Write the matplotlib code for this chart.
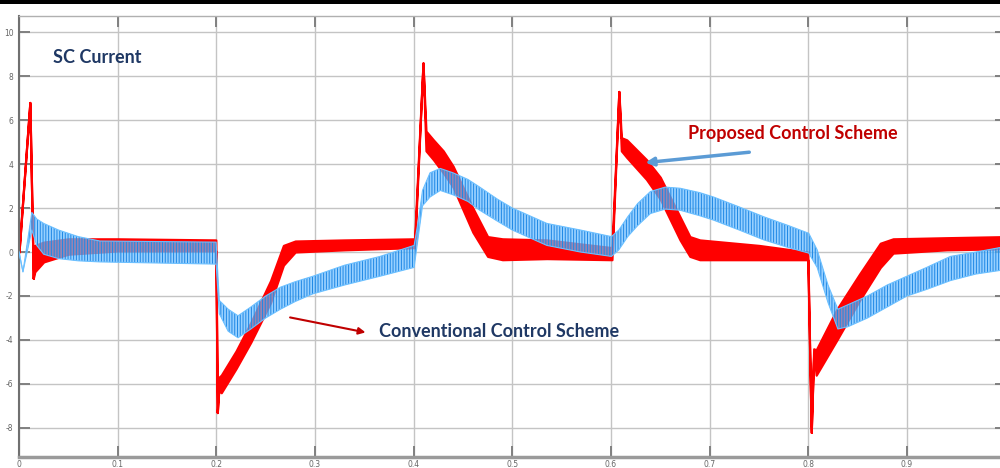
"""SC current: proposed vs conventional control scheme (scope-style plot)."""
import matplotlib
matplotlib.use('Agg')
import matplotlib.pyplot as plt
from matplotlib.patches import Rectangle

plt.rcParams['axes.unicode_minus'] = False
plt.rcParams['hatch.linewidth'] = 0.7

# Proposed scheme (red) - ripple band, upper / lower envelope
red_t = [0.000, 0.011, 0.0145, 0.016, 0.025, 0.05, 0.10, 0.1995,
         0.2010, 0.2025, 0.205, 0.22, 0.235, 0.255, 0.268, 0.28, 0.33, 0.401,
         0.4095, 0.4125, 0.42, 0.43, 0.44, 0.46, 0.475, 0.49, 0.535, 0.601,
         0.608, 0.6105, 0.616, 0.636, 0.65, 0.67, 0.68, 0.69, 0.75, 0.7995,
         0.803, 0.8055, 0.808, 0.829, 0.852, 0.873, 0.886, 0.94, 1.0]
red_hi = [0.0, 6.8, -1.2, 0.3, 0.45, 0.6, 0.6, 0.55,
          -7.3, -5.7, -5.6, -4.5, -3.2, -1.3, 0.3, 0.5, 0.55, 0.6,
          8.6, 5.5, 5.1, 4.6, 3.9, 2.0, 0.7, 0.6, 0.55, 0.2,
          7.3, 5.2, 5.1, 4.2, 3.4, 1.6, 0.7, 0.55, 0.3, 0.0,
          -8.2, -4.4, -4.45, -2.6, -1.0, 0.4, 0.6, 0.65, 0.7]
red_lo = [0.0, 6.8, -1.2, -0.9, -0.45, -0.1, 0.05, 0.05,
          -7.3, -6.3, -6.4, -5.3, -4.1, -2.3, -0.6, 0.0, 0.1, 0.2,
          8.6, 4.6, 4.2, 3.6, 2.95, 0.9, -0.2, -0.35, -0.3, -0.35,
          7.3, 4.6, 4.3, 3.3, 2.4, 0.55, -0.2, -0.35, -0.35, -0.35,
          -8.2, -4.6, -5.6, -4.0, -2.2, -0.7, -0.05, 0.1, 0.15]

# Conventional scheme (blue) - ripple band, upper / lower envelope
blue_t = [0.000, 0.004, 0.013, 0.018, 0.025, 0.04, 0.06, 0.082, 0.1998,
          0.203, 0.212, 0.222, 0.235, 0.25, 0.265, 0.28, 0.298, 0.33, 0.366, 0.4005,
          0.405, 0.409, 0.4166, 0.427, 0.44, 0.455, 0.467, 0.485, 0.50, 0.52,
          0.535, 0.569, 0.6005,
          0.608, 0.617, 0.627, 0.64, 0.655, 0.67, 0.69, 0.704, 0.73, 0.755,
          0.78, 0.8005,
          0.809, 0.82, 0.83, 0.84, 0.86, 0.88, 0.90, 0.92, 0.944, 0.97, 1.0]
blue_hi = [0.0, -0.9, 1.8, 1.5, 1.3, 1.0, 0.7, 0.5, 0.45,
           -2.2, -2.6, -2.9, -2.5, -2.0, -1.6, -1.35, -1.1, -0.6, -0.2, 0.3,
           1.5, 2.8, 3.6, 3.8, 3.6, 3.3, 2.95, 2.4, 2.0, 1.6,
           1.3, 1.0, 0.7,
           1.0, 1.6, 2.2, 2.75, 2.95, 2.9, 2.7, 2.5, 2.05, 1.6,
           1.2, 0.85,
           0.1, -1.5, -2.6, -2.4, -2.0, -1.5, -1.1, -0.7, -0.2, 0.0, 0.25]
blue_lo = [0.0, -0.9, 1.0, 0.3, -0.1, -0.3, -0.4, -0.45, -0.55,
           -2.8, -3.6, -3.9, -3.5, -3.0, -2.6, -2.25, -1.9, -1.5, -1.1, -0.7,
           0.8, 2.1, 2.5, 2.8, 2.6, 2.3, 1.9, 1.4, 1.0, 0.6,
           0.3, 0.0, -0.2,
           0.1, 0.7, 1.2, 1.75, 1.95, 1.9, 1.65, 1.45, 1.0, 0.55,
           0.2, -0.05,
           -0.7, -2.3, -3.5, -3.4, -3.0, -2.5, -2.0, -1.7, -1.3, -1.0, -0.8]

x_ticks = [0, 0.1, 0.2, 0.3, 0.4, 0.5, 0.6, 0.7, 0.8, 0.9]
x_labels = ['0', '0.1', '0.2', '0.3', '0.4', '0.5', '0.6', '0.7', '0.8', '0.9']
y_ticks = [10, 8, 6, 4, 2, 0, -2, -4, -6, -8]

NAVY = '#1f3864'
DARK_RED = '#c00000'

fig = plt.figure(figsize=(10, 4.68), dpi=100)
ax = fig.add_axes([0.019, 0.0235, 0.9866, 0.9423])

ax.fill_between(red_t, red_lo, red_hi, facecolor='#ff0000', edgecolor='#ff0000',
                linewidth=1.6, zorder=2)
ax.fill_between(blue_t, blue_lo, blue_hi, facecolor=(0.42, 0.74, 1.0, 0.7),
                edgecolor='#1e88e5', hatch='||||||', linewidth=0, zorder=3)
ax.plot(blue_t, blue_hi, color='#6cc0ff', lw=0.8, zorder=3)
ax.plot(blue_t, blue_lo, color='#6cc0ff', lw=0.8, zorder=3)

ax.set_xlim(0, 1.0)
ax.set_ylim(-9.32, 10.73)
ax.set_xticks(x_ticks)
ax.set_xticklabels(x_labels)
ax.set_yticks(y_ticks)
ax.set_yticklabels([str(v) for v in y_ticks])
ax.grid(True, color='#c4c4c4', linewidth=1.0, zorder=0)
ax.set_axisbelow(True)
ax.tick_params(direction='in', length=8, width=1.4, color='#808080',
               top=True, right=True, labelsize=5.5, labelcolor='#666666')
ax.tick_params(axis='y', pad=4)
ax.tick_params(axis='x', pad=2)

ax.spines['left'].set_color('#707070')
ax.spines['left'].set_linewidth(1.5)
ax.spines['bottom'].set_color('#9a9a9a')
ax.spines['bottom'].set_linewidth(2.5)
ax.spines['top'].set_color('#b0b0b0')
ax.spines['top'].set_linewidth(1.0)
ax.spines['right'].set_visible(False)

font = dict(family=['Lato', 'DejaVu Sans'], fontweight='bold', fontsize=13)
ax.text(0.034, 8.86, 'SC Current', color=NAVY, va='center', ha='left', **font)
ax.text(0.678, 5.4, 'Proposed Control Scheme', color=DARK_RED, va='center', ha='left', **font)
ax.text(0.365, -3.6, 'Conventional Control Scheme', color=NAVY, va='center', ha='left', **font)

ax.annotate('', xy=(0.632, 4.05), xytext=(0.743, 4.55),
            arrowprops=dict(arrowstyle='-|>', color='#5b9bd5', lw=2.5,
                            mutation_scale=12), zorder=5)
ax.annotate('', xy=(0.354, -3.68), xytext=(0.272, -2.95),
            arrowprops=dict(arrowstyle='-|>', color=DARK_RED, lw=1.5,
                            mutation_scale=10), zorder=5)

# black rule across the top edge
fig.add_artist(Rectangle((0, 0.992), 1, 0.008, transform=fig.transFigure,
                         facecolor='black', edgecolor='none'))

fig.savefig('out.png', dpi=100)
